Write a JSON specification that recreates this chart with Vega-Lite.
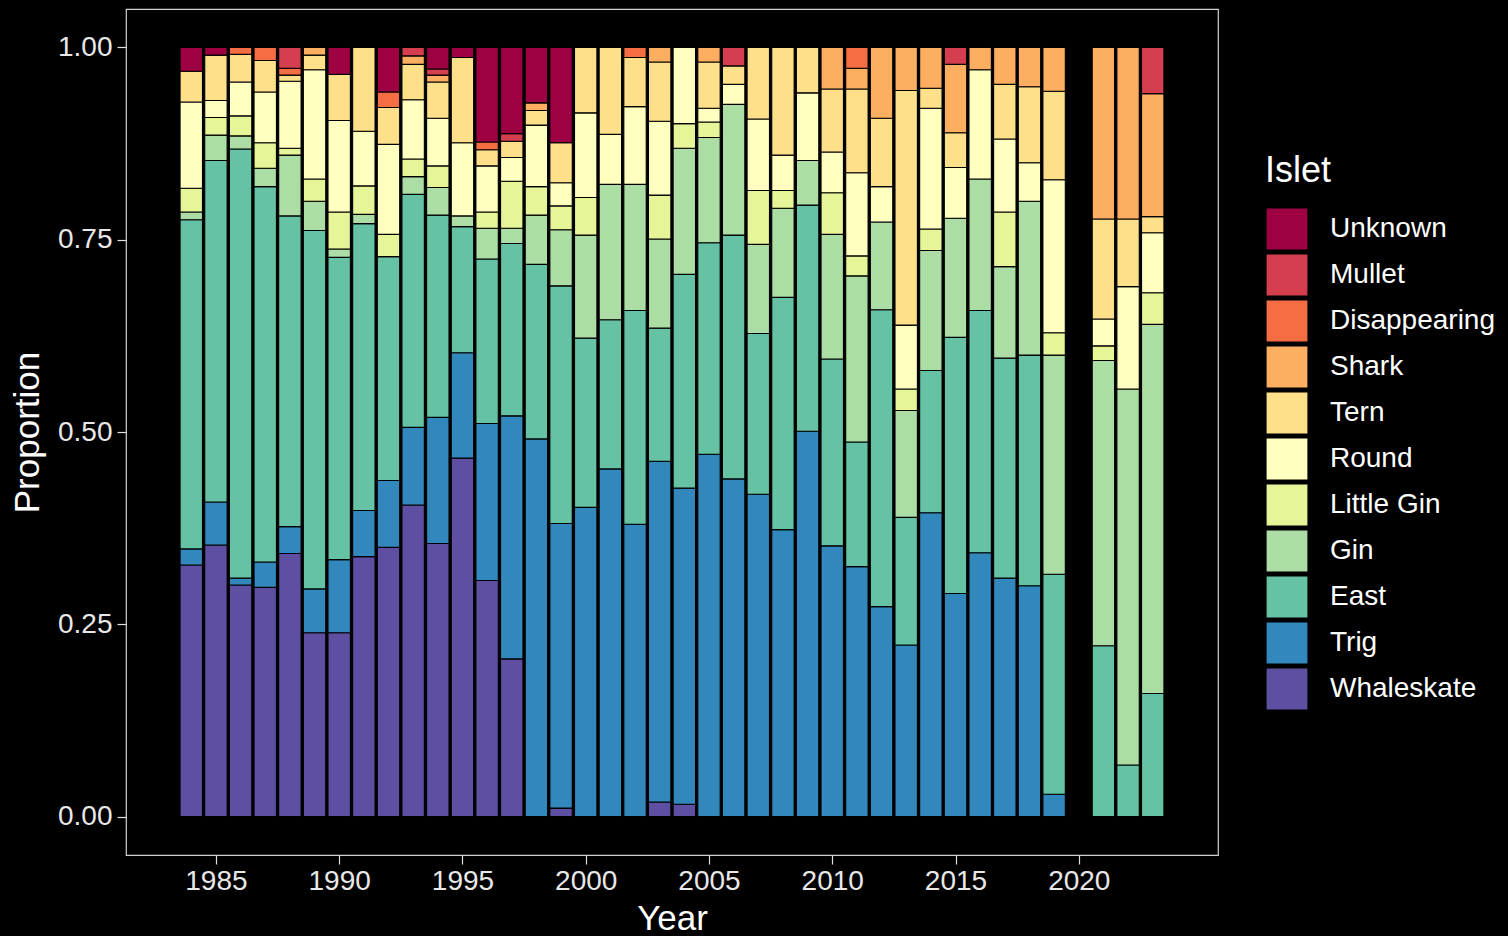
{
  "$schema": "https://vega.github.io/schema/vega-lite/v6.json",
  "width": 1092,
  "height": 846,
  "autosize": {"type": "none"},
  "padding": {"left": 126, "top": 9, "right": 290, "bottom": 81},
  "background": "black",
  "config": {
    "view": {"stroke": "#d0d0d0", "strokeWidth": 1.2},
    "font": "Liberation Sans"
  },
  "data": {
    "values": [
      {"year":1984,"islet":"Whaleskate","p":0.327},{"year":1984,"islet":"Trig","p":0.021},{"year":1984,"islet":"East","p":0.428},{"year":1984,"islet":"Gin","p":0.010},{"year":1984,"islet":"Little Gin","p":0.031},{"year":1984,"islet":"Round","p":0.112},{"year":1984,"islet":"Tern","p":0.040},{"year":1984,"islet":"Unknown","p":0.031},
      {"year":1985,"islet":"Whaleskate","p":0.353},{"year":1985,"islet":"Trig","p":0.056},{"year":1985,"islet":"East","p":0.444},{"year":1985,"islet":"Gin","p":0.033},{"year":1985,"islet":"Little Gin","p":0.023},{"year":1985,"islet":"Round","p":0.022},{"year":1985,"islet":"Tern","p":0.059},{"year":1985,"islet":"Unknown","p":0.010},
      {"year":1986,"islet":"Whaleskate","p":0.301},{"year":1986,"islet":"Trig","p":0.009},{"year":1986,"islet":"East","p":0.558},{"year":1986,"islet":"Gin","p":0.017},{"year":1986,"islet":"Little Gin","p":0.026},{"year":1986,"islet":"Round","p":0.044},{"year":1986,"islet":"Tern","p":0.036},{"year":1986,"islet":"Disappearing","p":0.009},
      {"year":1987,"islet":"Whaleskate","p":0.298},{"year":1987,"islet":"Trig","p":0.033},{"year":1987,"islet":"East","p":0.488},{"year":1987,"islet":"Gin","p":0.024},{"year":1987,"islet":"Little Gin","p":0.033},{"year":1987,"islet":"Round","p":0.066},{"year":1987,"islet":"Tern","p":0.041},{"year":1987,"islet":"Disappearing","p":0.017},
      {"year":1988,"islet":"Whaleskate","p":0.342},{"year":1988,"islet":"Trig","p":0.035},{"year":1988,"islet":"East","p":0.404},{"year":1988,"islet":"Gin","p":0.079},{"year":1988,"islet":"Little Gin","p":0.009},{"year":1988,"islet":"Round","p":0.087},{"year":1988,"islet":"Tern","p":0.008},{"year":1988,"islet":"Disappearing","p":0.009},{"year":1988,"islet":"Mullet","p":0.027},
      {"year":1989,"islet":"Whaleskate","p":0.239},{"year":1989,"islet":"Trig","p":0.057},{"year":1989,"islet":"East","p":0.466},{"year":1989,"islet":"Gin","p":0.038},{"year":1989,"islet":"Little Gin","p":0.029},{"year":1989,"islet":"Round","p":0.142},{"year":1989,"islet":"Tern","p":0.019},{"year":1989,"islet":"Shark","p":0.010},
      {"year":1990,"islet":"Whaleskate","p":0.239},{"year":1990,"islet":"Trig","p":0.095},{"year":1990,"islet":"East","p":0.393},{"year":1990,"islet":"Gin","p":0.011},{"year":1990,"islet":"Little Gin","p":0.048},{"year":1990,"islet":"Round","p":0.119},{"year":1990,"islet":"Tern","p":0.060},{"year":1990,"islet":"Unknown","p":0.035},
      {"year":1991,"islet":"Whaleskate","p":0.338},{"year":1991,"islet":"Trig","p":0.060},{"year":1991,"islet":"East","p":0.373},{"year":1991,"islet":"Gin","p":0.012},{"year":1991,"islet":"Little Gin","p":0.037},{"year":1991,"islet":"Round","p":0.071},{"year":1991,"islet":"Tern","p":0.109},
      {"year":1992,"islet":"Whaleskate","p":0.350},{"year":1992,"islet":"Trig","p":0.087},{"year":1992,"islet":"East","p":0.291},{"year":1992,"islet":"Little Gin","p":0.029},{"year":1992,"islet":"Round","p":0.117},{"year":1992,"islet":"Tern","p":0.048},{"year":1992,"islet":"Disappearing","p":0.020},{"year":1992,"islet":"Unknown","p":0.058},
      {"year":1993,"islet":"Whaleskate","p":0.405},{"year":1993,"islet":"Trig","p":0.101},{"year":1993,"islet":"East","p":0.303},{"year":1993,"islet":"Gin","p":0.023},{"year":1993,"islet":"Little Gin","p":0.023},{"year":1993,"islet":"Round","p":0.077},{"year":1993,"islet":"Tern","p":0.046},{"year":1993,"islet":"Shark","p":0.011},{"year":1993,"islet":"Mullet","p":0.011},
      {"year":1994,"islet":"Whaleskate","p":0.355},{"year":1994,"islet":"Trig","p":0.164},{"year":1994,"islet":"East","p":0.263},{"year":1994,"islet":"Gin","p":0.036},{"year":1994,"islet":"Little Gin","p":0.028},{"year":1994,"islet":"Round","p":0.062},{"year":1994,"islet":"Tern","p":0.047},{"year":1994,"islet":"Shark","p":0.009},{"year":1994,"islet":"Mullet","p":0.008},{"year":1994,"islet":"Unknown","p":0.028},
      {"year":1995,"islet":"Whaleskate","p":0.466},{"year":1995,"islet":"Trig","p":0.137},{"year":1995,"islet":"East","p":0.164},{"year":1995,"islet":"Gin","p":0.014},{"year":1995,"islet":"Round","p":0.095},{"year":1995,"islet":"Tern","p":0.111},{"year":1995,"islet":"Unknown","p":0.013},
      {"year":1996,"islet":"Whaleskate","p":0.307},{"year":1996,"islet":"Trig","p":0.204},{"year":1996,"islet":"East","p":0.214},{"year":1996,"islet":"Gin","p":0.040},{"year":1996,"islet":"Little Gin","p":0.021},{"year":1996,"islet":"Round","p":0.060},{"year":1996,"islet":"Tern","p":0.021},{"year":1996,"islet":"Disappearing","p":0.010},{"year":1996,"islet":"Unknown","p":0.123},
      {"year":1997,"islet":"Whaleskate","p":0.205},{"year":1997,"islet":"Trig","p":0.316},{"year":1997,"islet":"East","p":0.224},{"year":1997,"islet":"Gin","p":0.020},{"year":1997,"islet":"Little Gin","p":0.061},{"year":1997,"islet":"Round","p":0.031},{"year":1997,"islet":"Tern","p":0.021},{"year":1997,"islet":"Mullet","p":0.010},{"year":1997,"islet":"Unknown","p":0.112},
      {"year":1998,"islet":"Trig","p":0.491},{"year":1998,"islet":"East","p":0.227},{"year":1998,"islet":"Gin","p":0.064},{"year":1998,"islet":"Little Gin","p":0.037},{"year":1998,"islet":"Round","p":0.080},{"year":1998,"islet":"Tern","p":0.019},{"year":1998,"islet":"Shark","p":0.010},{"year":1998,"islet":"Unknown","p":0.072},
      {"year":1999,"islet":"Whaleskate","p":0.011},{"year":1999,"islet":"Trig","p":0.370},{"year":1999,"islet":"East","p":0.309},{"year":1999,"islet":"Gin","p":0.073},{"year":1999,"islet":"Little Gin","p":0.031},{"year":1999,"islet":"Round","p":0.030},{"year":1999,"islet":"Tern","p":0.052},{"year":1999,"islet":"Unknown","p":0.124},
      {"year":2000,"islet":"Trig","p":0.402},{"year":2000,"islet":"East","p":0.220},{"year":2000,"islet":"Gin","p":0.134},{"year":2000,"islet":"Little Gin","p":0.049},{"year":2000,"islet":"Round","p":0.110},{"year":2000,"islet":"Tern","p":0.085},
      {"year":2001,"islet":"Trig","p":0.452},{"year":2001,"islet":"East","p":0.194},{"year":2001,"islet":"Gin","p":0.176},{"year":2001,"islet":"Round","p":0.065},{"year":2001,"islet":"Tern","p":0.113},
      {"year":2002,"islet":"Trig","p":0.380},{"year":2002,"islet":"East","p":0.278},{"year":2002,"islet":"Gin","p":0.164},{"year":2002,"islet":"Round","p":0.101},{"year":2002,"islet":"Tern","p":0.064},{"year":2002,"islet":"Disappearing","p":0.013},
      {"year":2003,"islet":"Whaleskate","p":0.019},{"year":2003,"islet":"Trig","p":0.443},{"year":2003,"islet":"East","p":0.173},{"year":2003,"islet":"Gin","p":0.116},{"year":2003,"islet":"Little Gin","p":0.057},{"year":2003,"islet":"Round","p":0.096},{"year":2003,"islet":"Tern","p":0.077},{"year":2003,"islet":"Shark","p":0.019},
      {"year":2004,"islet":"Whaleskate","p":0.016},{"year":2004,"islet":"Trig","p":0.411},{"year":2004,"islet":"East","p":0.278},{"year":2004,"islet":"Gin","p":0.164},{"year":2004,"islet":"Little Gin","p":0.032},{"year":2004,"islet":"Round","p":0.099},
      {"year":2005,"islet":"Trig","p":0.471},{"year":2005,"islet":"East","p":0.275},{"year":2005,"islet":"Gin","p":0.137},{"year":2005,"islet":"Little Gin","p":0.020},{"year":2005,"islet":"Round","p":0.018},{"year":2005,"islet":"Tern","p":0.060},{"year":2005,"islet":"Shark","p":0.019},
      {"year":2006,"islet":"Trig","p":0.439},{"year":2006,"islet":"East","p":0.317},{"year":2006,"islet":"Gin","p":0.170},{"year":2006,"islet":"Round","p":0.026},{"year":2006,"islet":"Tern","p":0.024},{"year":2006,"islet":"Mullet","p":0.024},
      {"year":2007,"islet":"Trig","p":0.419},{"year":2007,"islet":"East","p":0.209},{"year":2007,"islet":"Gin","p":0.116},{"year":2007,"islet":"Little Gin","p":0.070},{"year":2007,"islet":"Round","p":0.093},{"year":2007,"islet":"Tern","p":0.093},
      {"year":2008,"islet":"Trig","p":0.373},{"year":2008,"islet":"East","p":0.302},{"year":2008,"islet":"Gin","p":0.116},{"year":2008,"islet":"Little Gin","p":0.023},{"year":2008,"islet":"Round","p":0.046},{"year":2008,"islet":"Tern","p":0.140},
      {"year":2009,"islet":"Trig","p":0.501},{"year":2009,"islet":"East","p":0.294},{"year":2009,"islet":"Gin","p":0.058},{"year":2009,"islet":"Round","p":0.088},{"year":2009,"islet":"Tern","p":0.059},
      {"year":2010,"islet":"Trig","p":0.352},{"year":2010,"islet":"East","p":0.243},{"year":2010,"islet":"Gin","p":0.162},{"year":2010,"islet":"Little Gin","p":0.054},{"year":2010,"islet":"Round","p":0.053},{"year":2010,"islet":"Tern","p":0.082},{"year":2010,"islet":"Shark","p":0.054},
      {"year":2011,"islet":"Trig","p":0.325},{"year":2011,"islet":"East","p":0.162},{"year":2011,"islet":"Gin","p":0.216},{"year":2011,"islet":"Little Gin","p":0.026},{"year":2011,"islet":"Round","p":0.108},{"year":2011,"islet":"Tern","p":0.109},{"year":2011,"islet":"Shark","p":0.027},{"year":2011,"islet":"Disappearing","p":0.027},
      {"year":2012,"islet":"Trig","p":0.273},{"year":2012,"islet":"East","p":0.386},{"year":2012,"islet":"Gin","p":0.114},{"year":2012,"islet":"Round","p":0.046},{"year":2012,"islet":"Tern","p":0.089},{"year":2012,"islet":"Shark","p":0.092},
      {"year":2013,"islet":"Trig","p":0.223},{"year":2013,"islet":"East","p":0.166},{"year":2013,"islet":"Gin","p":0.139},{"year":2013,"islet":"Little Gin","p":0.028},{"year":2013,"islet":"Round","p":0.083},{"year":2013,"islet":"Tern","p":0.305},{"year":2013,"islet":"Shark","p":0.056},
      {"year":2014,"islet":"Trig","p":0.395},{"year":2014,"islet":"East","p":0.185},{"year":2014,"islet":"Gin","p":0.156},{"year":2014,"islet":"Little Gin","p":0.028},{"year":2014,"islet":"Round","p":0.157},{"year":2014,"islet":"Tern","p":0.026},{"year":2014,"islet":"Shark","p":0.053},
      {"year":2015,"islet":"Trig","p":0.290},{"year":2015,"islet":"East","p":0.333},{"year":2015,"islet":"Gin","p":0.155},{"year":2015,"islet":"Round","p":0.066},{"year":2015,"islet":"Tern","p":0.045},{"year":2015,"islet":"Shark","p":0.089},{"year":2015,"islet":"Mullet","p":0.022},
      {"year":2016,"islet":"Trig","p":0.343},{"year":2016,"islet":"East","p":0.315},{"year":2016,"islet":"Gin","p":0.171},{"year":2016,"islet":"Round","p":0.142},{"year":2016,"islet":"Shark","p":0.029},
      {"year":2017,"islet":"Trig","p":0.310},{"year":2017,"islet":"East","p":0.286},{"year":2017,"islet":"Gin","p":0.119},{"year":2017,"islet":"Little Gin","p":0.071},{"year":2017,"islet":"Round","p":0.095},{"year":2017,"islet":"Tern","p":0.071},{"year":2017,"islet":"Shark","p":0.048},
      {"year":2018,"islet":"Trig","p":0.300},{"year":2018,"islet":"East","p":0.300},{"year":2018,"islet":"Gin","p":0.200},{"year":2018,"islet":"Round","p":0.050},{"year":2018,"islet":"Tern","p":0.099},{"year":2018,"islet":"Shark","p":0.051},
      {"year":2019,"islet":"Trig","p":0.029},{"year":2019,"islet":"East","p":0.286},{"year":2019,"islet":"Gin","p":0.285},{"year":2019,"islet":"Little Gin","p":0.029},{"year":2019,"islet":"Round","p":0.199},{"year":2019,"islet":"Tern","p":0.115},{"year":2019,"islet":"Shark","p":0.057},
      {"year":2021,"islet":"East","p":0.222},{"year":2021,"islet":"Gin","p":0.371},{"year":2021,"islet":"Little Gin","p":0.019},{"year":2021,"islet":"Round","p":0.035},{"year":2021,"islet":"Tern","p":0.130},{"year":2021,"islet":"Shark","p":0.223},
      {"year":2022,"islet":"East","p":0.067},{"year":2022,"islet":"Gin","p":0.489},{"year":2022,"islet":"Round","p":0.133},{"year":2022,"islet":"Tern","p":0.088},{"year":2022,"islet":"Shark","p":0.223},
      {"year":2023,"islet":"East","p":0.160},{"year":2023,"islet":"Gin","p":0.480},{"year":2023,"islet":"Little Gin","p":0.041},{"year":2023,"islet":"Round","p":0.078},{"year":2023,"islet":"Tern","p":0.021},{"year":2023,"islet":"Shark","p":0.160},{"year":2023,"islet":"Mullet","p":0.060}
    ]
  },
  "transform": [
    {"calculate": "indexof(['Whaleskate','Trig','East','Gin','Little Gin','Round','Tern','Shark','Disappearing','Mullet','Unknown'], datum.islet)", "as": "k"}
  ],
  "mark": {"type": "bar", "size": 22.4, "stroke": "black", "strokeWidth": 1.1},
  "encoding": {
    "x": {
      "field": "year", "type": "quantitative",
      "scale": {"domain": [1981.555, 2025.445], "nice": false, "zero": false},
      "axis": {
        "values": [1985, 1990, 1995, 2000, 2005, 2010, 2015, 2020],
        "format": "d", "grid": false, "domain": false,
        "tickColor": "#e0e0e0", "tickSize": 9, "tickWidth": 1.2,
        "labelColor": "#e8e8e8", "labelFontSize": 28, "labelPadding": 3,
        "title": "Year", "titleColor": "white", "titleFontSize": 35, "titleFontWeight": "normal", "titlePadding": 6
      }
    },
    "y": {
      "field": "p", "type": "quantitative", "stack": "zero",
      "scale": {"domain": [-0.05, 1.05], "nice": false, "zero": false},
      "axis": {
        "values": [0, 0.25, 0.5, 0.75, 1],
        "format": ".2f", "grid": false, "domain": false,
        "tickColor": "#e0e0e0", "tickSize": 9, "tickWidth": 1.2,
        "labelColor": "#e8e8e8", "labelFontSize": 28, "labelPadding": 5,
        "title": "Proportion", "titleColor": "white", "titleFontSize": 35, "titleFontWeight": "normal", "titlePadding": 12
      }
    },
    "color": {
      "field": "islet", "type": "nominal",
      "scale": {
        "domain": ["Unknown", "Mullet", "Disappearing", "Shark", "Tern", "Round", "Little Gin", "Gin", "East", "Trig", "Whaleskate"],
        "range": ["#9e0142", "#d53e4f", "#f46d43", "#fdae61", "#fee08b", "#ffffbf", "#e6f598", "#abdda4", "#66c2a5", "#3288bd", "#5e4fa2"]
      },
      "legend": {
        "orient": "none", "legendX": 1139, "legendY": 145,
        "title": "Islet", "titleColor": "white", "titleFontSize": 36, "titleFontWeight": "normal", "titlePadding": 17,
        "symbolType": "square", "symbolSize": 1764, "symbolStrokeColor": "black", "symbolStrokeWidth": 1.2, "symbolOpacity": 1,
        "labelColor": "white", "labelFontSize": 28, "labelOffset": 21, "rowPadding": -2, "padding": 0,
        "labelLimit": 400
      }
    },
    "order": {"field": "k", "type": "quantitative", "sort": "ascending"}
  }
}
